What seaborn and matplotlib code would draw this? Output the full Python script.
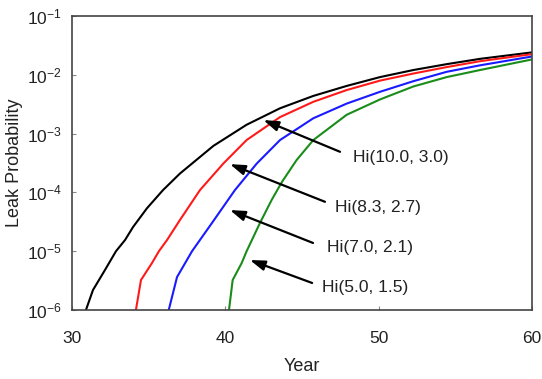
import numpy as np
import pandas as pd
import matplotlib
matplotlib.use("Agg")
import matplotlib.pyplot as plt
import seaborn as sns
from matplotlib.ticker import LogLocator, NullLocator, FixedLocator

# curves: year and log10(leak probability)
black_year = [30.91, 31.37, 32.15, 32.87, 33.46, 33.98, 34.89, 35.94, 37.04, 39.22,
              41.39, 43.57, 45.74, 47.92, 50.09, 52.26, 54.44, 56.61, 60.0]
black_log = [-6.0, -5.66, -5.32, -5.00, -4.81, -4.59, -4.27, -3.96, -3.68, -3.21,
             -2.85, -2.57, -2.36, -2.19, -2.04, -1.92, -1.82, -1.73, -1.62]

red_year = [34.17, 34.50, 35.22, 35.67, 36.20, 37.04, 38.35, 39.87, 41.39, 43.57,
            45.74, 47.92, 50.09, 52.26, 54.44, 56.61, 60.0]
red_log = [-6.0, -5.49, -5.20, -5.00, -4.81, -4.47, -3.96, -3.51, -3.11, -2.72,
           -2.46, -2.26, -2.10, -1.98, -1.87, -1.77, -1.65]

blue_year = [36.31, 36.85, 37.83, 39.13, 40.63, 42.05, 43.57, 45.74, 47.92, 50.09,
             52.26, 54.44, 56.61, 60.0]
blue_log = [-6.0, -5.44, -5.00, -4.52, -3.96, -3.51, -3.11, -2.74, -2.49, -2.29,
            -2.11, -1.95, -1.84, -1.69]

green_year = [40.24, 40.48, 41.07, 41.39, 42.26, 43.02, 43.70, 44.65, 45.74, 47.92,
              50.09, 52.26, 54.44, 56.61, 60.0]
green_log = [-6.0, -5.49, -5.20, -5.00, -4.52, -4.13, -3.82, -3.45, -3.11, -2.68,
             -2.42, -2.20, -2.04, -1.92, -1.74]

labels = ["Hi(10.0, 3.0)", "Hi(8.3, 2.7)", "Hi(7.0, 2.1)", "Hi(5.0, 1.5)"]
colors = ["black", "#ff1a1a", "#1a1aff", "#1a8c1a"]

# arrow heads / tails and label anchors (year, log10 p)
head_year = [42.48, 40.3, 40.3, 41.6]
head_log = [-2.77, -3.52, -4.30, -5.15]
tail_year = [47.48, 46.5, 45.72, 45.66]
tail_log = [-3.31, -4.16, -4.86, -5.54]
text_year = [48.33, 47.16, 46.63, 46.3]
text_log = [-3.40, -4.25, -4.93, -5.61]

frames = []
for lab, yr, lg in zip(labels,
                       [black_year, red_year, blue_year, green_year],
                       [black_log, red_log, blue_log, green_log]):
    frames.append(pd.DataFrame({"Year": yr, "p": 10.0 ** np.array(lg), "case": lab}))
df = pd.concat(frames, ignore_index=True)

sns.set_style("ticks")
plt.rcParams["font.family"] = ["Liberation Sans", "DejaVu Sans"]

fig = plt.figure(figsize=(5.42, 3.79), dpi=100)
ax = fig.add_axes([0.1328, 0.182, 0.8487, 0.776])

sns.lineplot(data=df, x="Year", y="p", hue="case", palette=dict(zip(labels, colors)),
             sort=False, estimator=None, linewidth=1.5, legend=False, ax=ax)

ax.set_yscale("log")
ax.set_xlim(30, 60)
ax.set_ylim(1e-6, 1e-1)
ax.yaxis.set_major_locator(LogLocator(base=10, numticks=10))
ax.yaxis.set_minor_locator(NullLocator())
ax.xaxis.set_major_locator(FixedLocator([30, 40, 50, 60]))

for i in range(4):
    ax.annotate("", xy=(head_year[i], 10 ** head_log[i]),
                xytext=(tail_year[i], 10 ** tail_log[i]),
                arrowprops=dict(arrowstyle="-|>,head_length=0.9,head_width=0.3",
                                color="black", lw=1.6, shrinkA=0, shrinkB=0))
    ax.text(text_year[i], 10 ** text_log[i], labels[i], ha="left", va="center",
            fontsize=12.5, color="#222222")

for sp in ax.spines.values():
    sp.set_color("#444444")
    sp.set_linewidth(1.2)

ax.tick_params(axis="both", direction="in", length=3, width=0.8, color="#888888",
               labelsize=12.5, labelcolor="#222222", top=False, right=False)
ax.tick_params(axis="x", pad=15)
ax.tick_params(axis="y", pad=7.5)

ax.set_xlabel("Year", fontsize=13, color="#222222")
ax.set_ylabel("Leak Probability", fontsize=13, color="#222222")
ax.xaxis.set_label_coords(0.5, -0.163)
ax.yaxis.set_label_coords(-0.107, 0.5)

fig.savefig("out.png", dpi=100)
plt.close(fig)
